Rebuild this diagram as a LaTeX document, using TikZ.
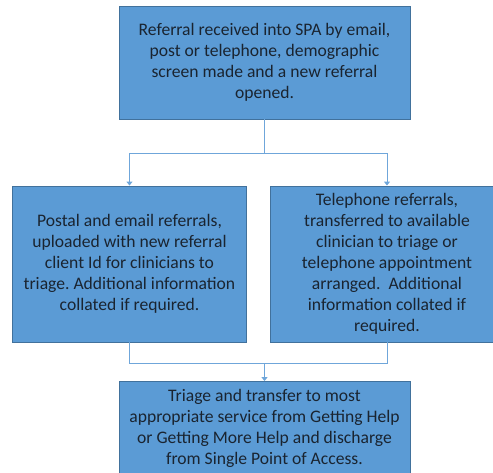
\documentclass[tikz,border=0pt]{standalone}
\usepackage{fontspec}
\setmainfont{Carlito}
\usetikzlibrary{arrows.meta}

\definecolor{boxfill}{HTML}{5B9BD5}
\definecolor{boxline}{HTML}{41719C}
\definecolor{linkcol}{HTML}{6FA6DA}
\definecolor{textcol}{HTML}{1A2430}

\begin{document}
\frenchspacing
\begin{tikzpicture}[x=1pt, y=-1pt,
    stepbox/.style={draw=boxline, fill=boxfill, line width=0.9pt, text=textcol,
        align=center, inner sep=0pt, font=\fontsize{17.6}{21}\selectfont},
    link/.style={draw=linkcol, line width=1pt},
    linkarrow/.style={link, -{Triangle[width=6pt,length=4pt]}}]

% Dimensions
\def\widebox{291}
\def\sidebox{234}

\useasboundingbox (0,0) rectangle (493,472);

% Boxes
\node[stepbox, minimum width=\widebox pt, minimum height=113pt] (received) at (264.5,62.5)
    {Referral received into SPA by email,\\post or telephone, demographic\\screen made and a new referral\\opened.};
\node[stepbox, minimum width=\sidebox pt, minimum height=156pt] (postal) at (129.5,264)
    {Postal and email referrals,\\uploaded with new referral\\client Id for clinicians to\\triage. Additional information\\collated if required.};
\node[stepbox, minimum width=\sidebox pt, minimum height=156pt] (phone) at (387,264)
    {Telephone referrals,\\transferred to available\\clinician to triage or\\telephone appointment\\arranged.~ Additional\\information collated if\\required.};
\node[stepbox, minimum width=\widebox pt, minimum height=94pt] (triage) at (264.5,428.5)
    {Triage and transfer to most\\appropriate service from Getting Help\\or Getting More Help and discharge\\from Single Point of Access.};

% Connectors
\coordinate (fork) at (264.5,153);
\coordinate (merge) at (264.5,363);
\draw[link] (received.south) -- (fork);
\draw[linkarrow] (fork) -| (postal.north);
\draw[linkarrow] (fork) -| (phone.north);
\draw[link] (postal.south) |- (merge);
\draw[link] (phone.south) |- (merge);
\draw[linkarrow] (merge) -- (triage.north);

\end{tikzpicture}
\end{document}
